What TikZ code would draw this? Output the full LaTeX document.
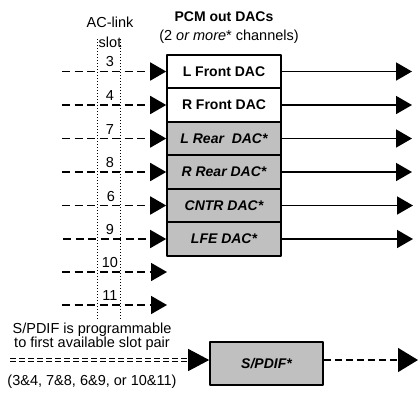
\documentclass[tikz,border=0pt]{standalone}
\usepackage{fontspec}
\setmainfont{Liberation Sans}
\usetikzlibrary{arrows.meta}

\definecolor{dacfill}{HTML}{C0C0C0}

\begin{document}
\begin{tikzpicture}[x=1pt,y=-1pt,line join=round,
  font=\fontsize{14.5}{16}\selectfont,
  dacbox/.style={draw,line width=1.6pt,minimum width=114pt,minimum height=33.5pt,
    inner sep=0pt,font=\fontsize{14}{16}\selectfont\bfseries},
  optbox/.style={dacbox,fill=dacfill,font=\fontsize{14}{16}\selectfont\bfseries\itshape},
  slotnum/.style={inner sep=0pt},
  slotarrow/.style={line width=1.7pt,dash pattern=on 8pt off 4.5pt,
    -{Triangle[length=16pt,width=18pt]}},
  outarrow/.style={line width=1.7pt,-{Triangle[length=16pt,width=18pt]}}]
  % Match the original frame of the figure.
  \useasboundingbox (0,0) rectangle (420,400);

  % Column headings.
  \node (aclink) at (110,22) {AC-link};
  \node (slot) at (110,42) {slot};
  \node (pcmtitle) at (224,17) {\fontsize{14}{16}\selectfont\bfseries PCM out DACs};
  \node (pcmsub) at (229,37) {(2 \textit{or more}* channels)};

  % Dotted guides of the slot column.
  \draw[dotted,line width=1pt] (97,39) -- (97,320);
  \draw[dotted,line width=1pt] (120,39) -- (120,320);

  % DAC boxes.
  \node[dacbox] (lfront) at (224,71.5) {L Front DAC};
  \node[dacbox] (rfront) at (224,105) {R Front DAC};
  \node[optbox] (lrear) at (224,138.5) {L Rear\ \ DAC*};
  \node[optbox] (rrear) at (224,172) {R Rear DAC*};
  \node[optbox] (cntr) at (224,205.5) {CNTR DAC*};
  \node[optbox] (lfe) at (224,239) {LFE DAC*};

  % Slot numbers.
  \node[slotnum] (s3) at (110,62) {3};
  \node[slotnum] (s4) at (110,96) {4};
  \node[slotnum] (s7) at (110,129.5) {7};
  \node[slotnum] (s8) at (110,163) {8};
  \node[slotnum] (s6) at (111,196.5) {6};
  \node[slotnum] (s9) at (110,230) {9};
  \node[slotnum] (s10) at (110,263) {10};
  \node[slotnum] (s11) at (110,296) {11};

  % Free ends of the slot lines.
  \coordinate (in3) at (62,71.5);
  \coordinate (in4) at (62,105);
  \coordinate (in7) at (62,138.5);
  \coordinate (in8) at (62,172);
  \coordinate (in6) at (62,205.5);
  \coordinate (in9) at (63,239);
  \coordinate (in10) at (62,272);
  \coordinate (in11) at (62,305);
  \coordinate (end10) at (167,272);
  \coordinate (end11) at (167,305);

  \draw[slotarrow] (in3) -- (lfront.west);
  \draw[slotarrow] (in4) -- (rfront.west);
  \draw[slotarrow] (in7) -- (lrear.west);
  \draw[slotarrow] (in8) -- (rrear.west);
  \draw[slotarrow] (in6) -- (cntr.west);
  \draw[slotarrow] (in9) -- (lfe.west);
  \draw[slotarrow] (in10) -- (end10);
  \draw[slotarrow] (in11) -- (end11);

  % Analog outputs.
  \coordinate (out3) at (412,71.5);
  \coordinate (out4) at (412,105);
  \coordinate (out7) at (412,138.5);
  \coordinate (out8) at (412,172);
  \coordinate (out6) at (413,205.5);
  \coordinate (out9) at (413,239);

  \draw[outarrow] (lfront.east) -- (out3);
  \draw[outarrow] (rfront.east) -- (out4);
  \draw[outarrow] (lrear.east) -- (out7);
  \draw[outarrow] (rrear.east) -- (out8);
  \draw[outarrow] (cntr.east) -- (out6);
  \draw[outarrow] (lfe.east) -- (out9);

  % S/PDIF path.
  \node (spdifnote) at (92,330) {S/PDIF is programmable};
  \node (spdifnote2) at (92,344) {to first available slot pair};
  \node (spdifpairs) at (92,382) {(3\&4, 7\&8, 6\&9, or 10\&11)};
  \node[optbox,minimum width=113pt,minimum height=43pt] (spdif) at (266.5,363.5) {S/PDIF*};
  \coordinate (spdifsrc) at (10,360);
  \coordinate (spdifout) at (418,360);

  \draw[double,double distance=1.8pt,line width=0.9pt,dash pattern=on 6pt off 3pt,
    -{Triangle[length=21pt,width=22pt]}] (spdifsrc) -- (spdif.west |- spdifsrc);
  \draw[line width=1.4pt,dash pattern=on 7pt off 4pt,
    -{Triangle[length=20pt,width=24pt]}] (spdif.east |- spdifout) -- (spdifout);
\end{tikzpicture}
\end{document}
